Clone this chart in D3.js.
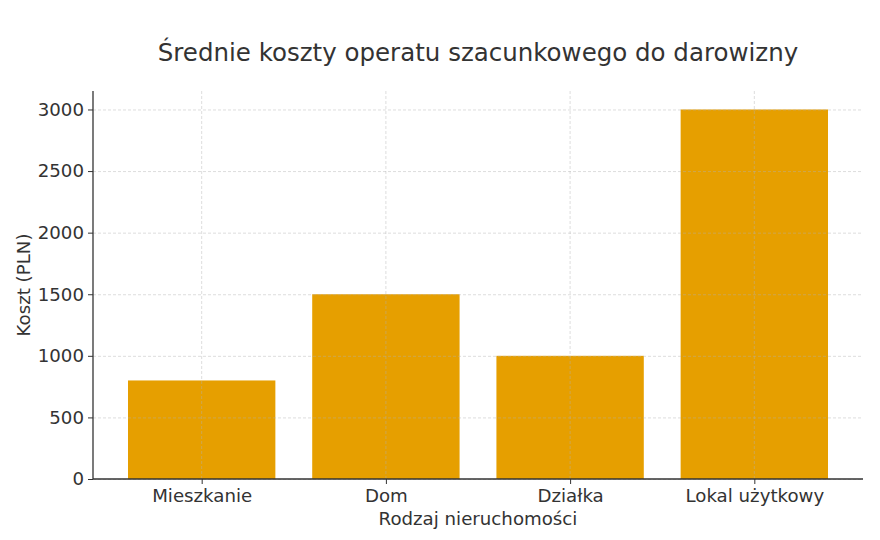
<!DOCTYPE html>
<html>
<head>
<meta charset="utf-8">
<script src="https://cdn.jsdelivr.net/npm/d3@7"></script>
<style>
  body { margin: 0; background: #fff; }
  svg text { font-family: "DejaVu Sans", sans-serif; fill: #333; }
</style>
</head>
<body>
<div id="chart"></div>
<script>
const categories = ["Mieszkanie", "Dom", "Działka", "Lokal użytkowy"];
const costs = [800, 1500, 1000, 3000];
const yTicks = [0, 500, 1000, 1500, 2000, 2500, 3000];

const width = 880, height = 540;
const margin = { top: 91, right: 17, bottom: 61, left: 93 };
const innerW = width - margin.left - margin.right;
const innerH = height - margin.top - margin.bottom;

const svg = d3.select("#chart")
  .append("svg")
  .attr("width", width)
  .attr("height", height);

const g = svg.append("g")
  .attr("transform", `translate(${margin.left},${margin.top})`);

// matplotlib-like linear x: bars at 0..n-1, width 0.8, 5% margin
const n = categories.length;
const pad = 0.05 * (n - 1 + 0.8);
const x = d3.scaleLinear()
  .domain([-0.4 - pad, n - 1 + 0.4 + pad])
  .range([0, innerW]);

const y = d3.scaleLinear()
  .domain([0, d3.max(costs) * 1.05])
  .range([innerH, 0]);

const data = categories.map((c, i) => ({ cat: c, i, v: costs[i] }));

// bars
g.selectAll("rect.bar")
  .data(data)
  .join("rect")
  .attr("class", "bar")
  .attr("x", d => x(d.i - 0.4))
  .attr("width", x(0.8) - x(0))
  .attr("y", d => y(d.v))
  .attr("height", d => innerH - y(d.v))
  .attr("fill", "#E69F00");

// grid (drawn above bars, faint)
const grid = g.append("g").attr("stroke", "#b0b0b0").attr("stroke-opacity", 0.55)
  .attr("stroke-dasharray", "3,2").attr("stroke-width", 0.8);
grid.selectAll("line.h")
  .data(yTicks)
  .join("line")
  .attr("class", "h")
  .attr("x1", 0).attr("x2", innerW)
  .attr("y1", d => y(d) + 0.5).attr("y2", d => y(d) + 0.5);
grid.selectAll("line.v")
  .data(data)
  .join("line")
  .attr("class", "v")
  .attr("y1", 0).attr("y2", innerH)
  .attr("x1", d => x(d.i)).attr("x2", d => x(d.i));

// axes
const yAxis = g.append("g")
  .call(d3.axisLeft(y).tickValues(yTicks).tickSize(5).tickPadding(4).tickFormat(d3.format("d")));
const xAxis = g.append("g")
  .attr("transform", `translate(0,${innerH})`)
  .call(d3.axisBottom(x).tickValues(data.map(d => d.i)).tickSize(5).tickPadding(5)
    .tickFormat(i => categories[i]));

[yAxis, xAxis].forEach(a => {
  a.select(".domain").attr("stroke", "#333").attr("stroke-width", 1.3);
  a.selectAll(".tick line").attr("stroke", "#333").attr("stroke-width", 1);
  a.selectAll(".tick text").attr("font-size", 18.2).attr("fill", "#333");
});
// only left and bottom spines: trim the axis ends
yAxis.select(".domain").attr("d", `M0,0V${innerH}`);
xAxis.select(".domain").attr("d", `M0,0H${innerW}`);

// labels
svg.append("text")
  .attr("x", margin.left + innerW / 2)
  .attr("y", 61)
  .attr("text-anchor", "middle")
  .attr("font-size", 24.5)
  .text("Średnie koszty operatu szacunkowego do darowizny");

svg.append("text")
  .attr("x", margin.left + innerW / 2)
  .attr("y", 525)
  .attr("text-anchor", "middle")
  .attr("font-size", 18.2)
  .text("Rodzaj nieruchomości");

svg.append("text")
  .attr("transform", `translate(30,${margin.top + innerH / 2}) rotate(-90)`)
  .attr("text-anchor", "middle")
  .attr("font-size", 18.2)
  .text("Koszt (PLN)");
</script>
</body>
</html>
